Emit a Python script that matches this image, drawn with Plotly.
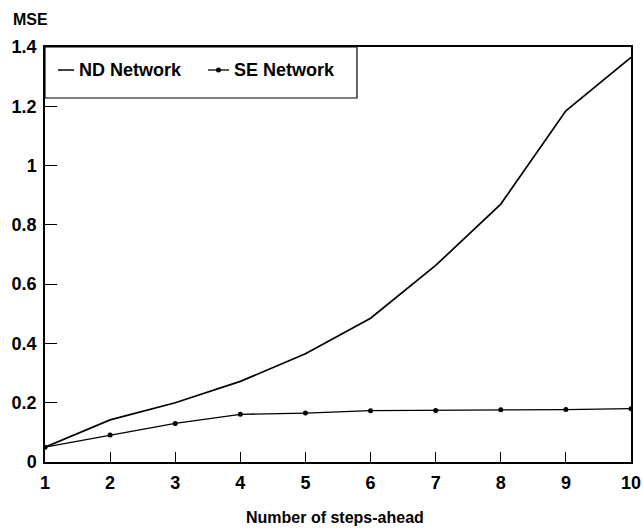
import plotly.graph_objects as go

steps = [1, 2, 3, 4, 5, 6, 7, 8, 9, 10]
nd_network = [0.05, 0.142, 0.20, 0.272, 0.365, 0.485, 0.663, 0.870, 1.185, 1.365]
se_network = [0.05, 0.091, 0.130, 0.161, 0.165, 0.173, 0.174, 0.176, 0.177, 0.180]
y_ticks = [0, 0.2, 0.4, 0.6, 0.8, 1, 1.2, 1.4]
y_tick_text = ["0", "0.2", "0.4", "0.6", "0.8", "1", "1.2", "1.4"]
series_names = ["ND Network", "SE Network"]

FONT = "Liberation Sans"

# plot area in pixels (used to place the boxed key in paper coordinates)
L, R, T, B = 45, 631, 47, 462


def px(x):
    return (x - L) / (R - L)


def py(y):
    return (B - y) / (B - T)


fig = go.Figure()
fig.add_trace(go.Scatter(
    x=steps, y=nd_network, mode="lines", name=series_names[0],
    line=dict(color="black", width=1.7), showlegend=False,
))
fig.add_trace(go.Scatter(
    x=steps, y=se_network, mode="lines+markers", name=series_names[1],
    line=dict(color="black", width=1.3),
    marker=dict(color="black", size=5, symbol="circle"), showlegend=False,
))

axis_common = dict(
    showline=True, linecolor="black", linewidth=1.5, mirror=True,
    showgrid=False, zeroline=False, automargin=False,
    ticks="inside", tickcolor="black", tickwidth=1,
    tickfont=dict(family=FONT, size=18, color="black", weight="bold"),
)

# boxed key in the upper-left corner
key_y = py(70)
shapes = [
    dict(type="rect", xref="paper", yref="paper",
         x0=0, x1=px(357), y0=py(98), y1=1,
         line=dict(color="black", width=1.2), fillcolor="rgba(0,0,0,0)"),
    dict(type="line", xref="paper", yref="paper",
         x0=px(58), x1=px(74), y0=key_y, y1=key_y,
         line=dict(color="black", width=1.5)),
    dict(type="line", xref="paper", yref="paper",
         x0=px(208), x1=px(229), y0=key_y, y1=key_y,
         line=dict(color="black", width=1.3)),
    dict(type="circle", xref="paper", yref="paper",
         x0=px(216), x1=px(221), y0=py(72.5), y1=py(67.5),
         line=dict(color="black", width=0), fillcolor="black"),
]

key_font = dict(family=FONT, size=18, color="black", weight="bold")
annotations = [
    dict(text=series_names[0], xref="paper", yref="paper", x=px(77), y=key_y,
         xanchor="left", yanchor="middle", showarrow=False, font=key_font),
    dict(text=series_names[1], xref="paper", yref="paper", x=px(232), y=key_y,
         xanchor="left", yanchor="middle", showarrow=False, font=key_font),
    dict(text="MSE", xref="paper", yref="paper", x=px(11), y=py(20),
         xanchor="left", yanchor="middle", showarrow=False,
         font=dict(family=FONT, size=16, color="black", weight="bold")),
    dict(text="Number of steps-ahead", xref="paper", yref="paper",
         x=px(335), y=py(517), xanchor="center", yanchor="middle",
         showarrow=False,
         font=dict(family=FONT, size=16, color="black", weight="bold")),
]

fig.update_layout(
    width=643, height=530,
    margin=dict(l=L, r=643 - R, t=T, b=530 - B),
    paper_bgcolor="white", plot_bgcolor="white",
    xaxis=dict(
        range=[1, 10], tickvals=steps, ticklen=10, ticklabelstandoff=4,
        **axis_common,
    ),
    yaxis=dict(
        range=[0, 1.4], tickvals=y_ticks, ticktext=y_tick_text, ticklen=12,
        ticklabelstandoff=3,
        **axis_common,
    ),
    showlegend=False,
    shapes=shapes,
    annotations=annotations,
)

fig.write_html("out.html")
